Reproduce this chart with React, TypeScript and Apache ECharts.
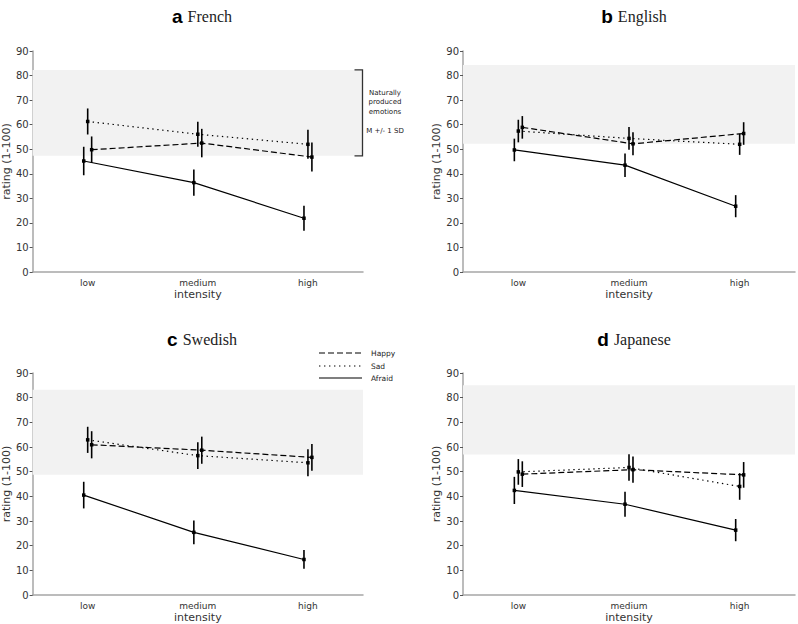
import React, { useEffect, useRef } from 'react';
import * as echarts from 'echarts';

const categories = ['low', 'medium', 'high'];
const emotionNames = ['Happy', 'Sad', 'Afraid'];
const panelLetters = ['a', 'b', 'c', 'd'];
const panelLanguages = ['French', 'English', 'Swedish', 'Japanese'];

// French
const frenchHappy = [49.8, 52.5, 46.8];
const frenchHappyErr = [5.4, 5.8, 5.9];
const frenchSad = [61.3, 56.1, 52.0];
const frenchSadErr = [5.3, 5.1, 5.9];
const frenchAfraid = [45.2, 36.4, 21.9];
const frenchAfraidErr = [5.8, 5.3, 5.1];
const frenchBand = [47.3, 82.3];

// English
const englishHappy = [58.9, 52.2, 56.4];
const englishHappyErr = [4.6, 4.7, 4.6];
const englishSad = [57.4, 54.4, 52.0];
const englishSadErr = [4.6, 4.6, 4.3];
const englishAfraid = [49.7, 43.5, 26.8];
const englishAfraidErr = [4.6, 4.8, 4.5];
const englishBand = [52.2, 84.3];

// Swedish
const swedishHappy = [60.9, 58.7, 55.8];
const swedishHappyErr = [5.5, 5.5, 5.4];
const swedishSad = [62.9, 56.5, 53.6];
const swedishSadErr = [5.3, 5.4, 5.5];
const swedishAfraid = [40.5, 25.4, 14.4];
const swedishAfraidErr = [5.4, 4.8, 3.8];
const swedishBand = [48.8, 83.2];

// Japanese
const japaneseHappy = [49.0, 50.8, 48.7];
const japaneseHappyErr = [5.2, 5.3, 5.2];
const japaneseSad = [49.9, 51.7, 44.0];
const japaneseSadErr = [5.2, 5.4, 5.4];
const japaneseAfraid = [42.4, 36.8, 26.3];
const japaneseAfraidErr = [5.5, 5.1, 4.5];
const japaneseBand = [57.0, 85.0];

const panelMeans = [
  [frenchHappy, frenchSad, frenchAfraid],
  [englishHappy, englishSad, englishAfraid],
  [swedishHappy, swedishSad, swedishAfraid],
  [japaneseHappy, japaneseSad, japaneseAfraid],
];
const panelErrs = [
  [frenchHappyErr, frenchSadErr, frenchAfraidErr],
  [englishHappyErr, englishSadErr, englishAfraidErr],
  [swedishHappyErr, swedishSadErr, swedishAfraidErr],
  [japaneseHappyErr, japaneseSadErr, japaneseAfraidErr],
];
const panelBands = [frenchBand, englishBand, swedishBand, japaneseBand];

const emotionOffsets = [0.036, 0, -0.036];
const emotionDash: any[] = [[6, 3], [1.4, 3.6], 'solid'];

const grids = [
  { left: 31, top: 51, width: 332, height: 221 },
  { left: 463, top: 51, width: 332, height: 221 },
  { left: 31, top: 373, width: 332, height: 222 },
  { left: 463, top: 373, width: 332, height: 222 },
];
const titleTops = [2, 2, 325, 325];

const axisGrey = '#a6a6a6';
const textGrey = '#333';
const sans = 'DejaVu Sans';

export default function App() {
  const ref = useRef<HTMLDivElement>(null);
  useEffect(() => {
    document.body.style.margin = '0';
    const chart = echarts.init(ref.current!, null, { renderer: 'svg' });

    const xAxis: any[] = [];
    const yAxis: any[] = [];
    const series: any[] = [];
    grids.forEach((g, i) => {
      xAxis.push({
        type: 'value', gridIndex: i, min: -0.5, max: 2.5, show: false,
      });
      xAxis.push({
        type: 'category', gridIndex: i, data: categories, boundaryGap: true,
        position: 'bottom',
        name: 'intensity', nameLocation: 'middle', nameGap: 17,
        nameTextStyle: { fontFamily: sans, fontSize: 11, color: textGrey },
        axisLine: { onZero: false, lineStyle: { color: axisGrey, width: 1.5 } },
        axisTick: { alignWithLabel: true, inside: true, length: 3, lineStyle: { color: '#555' } },
        axisLabel: { fontFamily: sans, fontSize: 9, color: textGrey, margin: 6 },
        splitLine: { show: false },
      });
      yAxis.push({
        type: 'value', gridIndex: i, min: 0, max: 90, interval: 10,
        position: 'left',
        name: 'rating (1-100)', nameLocation: 'middle', nameGap: 20,
        nameTextStyle: { fontFamily: sans, fontSize: 11, color: textGrey },
        axisLine: { show: true, onZero: false, lineStyle: { color: axisGrey, width: 1.5 } },
        axisTick: { show: true, length: 3, lineStyle: { color: '#555' } },
        axisLabel: { fontFamily: sans, fontSize: 10, color: textGrey, margin: 4 },
        splitLine: { show: false },
      });
      emotionNames.forEach((name, e) => {
        const means = panelMeans[i][e];
        const errs = panelErrs[i][e];
        const off = emotionOffsets[e];
        const s: any = {
          type: 'line', name, xAxisIndex: 2 * i, yAxisIndex: i,
          data: means.map((v, k) => [k + off, v]),
          symbol: 'rect', symbolSize: 3.5,
          itemStyle: { color: '#000' },
          lineStyle: { color: '#000', width: 1.2, type: emotionDash[e] },
          z: 3,
        };
        if (e === 0) {
          s.markArea = {
            silent: true,
            itemStyle: { color: '#f2f2f2' },
            data: [[{ yAxis: panelBands[i][0] }, { yAxis: panelBands[i][1] }]],
            z: 1,
          };
        }
        series.push(s);
        series.push({
          type: 'custom', name: name + ' error', xAxisIndex: 2 * i, yAxisIndex: i,
          data: means.map((v, k) => [k + off, v - errs[k], v + errs[k]]),
          encode: { x: 0, y: [1, 2] },
          z: 4,
          renderItem: (params: any, api: any) => {
            const x = api.value(0);
            const p1 = api.coord([x, api.value(1)]);
            const p2 = api.coord([x, api.value(2)]);
            return {
              type: 'line',
              shape: { x1: p1[0], y1: p1[1], x2: p2[0], y2: p2[1] },
              style: { stroke: '#000', lineWidth: 1.6 },
            };
          },
        });
      });
    });

    chart.setOption({
      animation: false,
      title: grids.map((g, i) => ({
        text: `{b|${panelLetters[i]}} {s|${panelLanguages[i]}}`,
        left: g.left + g.width / 2,
        top: titleTops[i],
        textAlign: 'center',
        textStyle: {
          fontWeight: 'normal',
          rich: {
            b: { fontFamily: 'Liberation Sans', fontWeight: 'bold', fontSize: 19, color: '#000' },
            s: { fontFamily: 'Liberation Serif', fontWeight: 'normal', fontSize: 16, color: '#222' },
          },
        },
      })),
      grid: grids,
      xAxis,
      yAxis,
      series,
    });

    // bracket and annotation for panel a, legend in panel c
    const pTop = chart.convertToPixel({ xAxisIndex: 0, yAxisIndex: 0 }, [2.5, frenchBand[1]]) as number[];
    const pBot = chart.convertToPixel({ xAxisIndex: 0, yAxisIndex: 0 }, [2.5, frenchBand[0]]) as number[];
    const bx = pTop[0] - 0.5;
    const legendX0 = 319;
    const legendX1 = 362;
    const legendYs = [353, 366, 378];
    chart.setOption({
      graphic: [
        {
          type: 'polyline',
          z: 100,
          shape: { points: [[bx - 8, pTop[1]], [bx, pTop[1]], [bx, pBot[1]], [bx - 8, pBot[1]]] },
          style: { stroke: '#333', lineWidth: 1.3, fill: null },
        },
        {
          type: 'text', x: 385, y: 102,
          style: {
            text: 'Naturally\nproduced\nemotions', fontFamily: sans, fontSize: 7, lineHeight: 9.5,
            fill: '#222', align: 'center', verticalAlign: 'middle',
          },
        },
        {
          type: 'text', x: 385, y: 131,
          style: { text: 'M +/- 1 SD', fontFamily: sans, fontSize: 7, fill: '#222', align: 'center', verticalAlign: 'middle' },
        },
        ...emotionNames.flatMap((name, e) => [
          {
            type: 'line',
            shape: { x1: legendX0, y1: legendYs[e], x2: legendX1, y2: legendYs[e] },
            style: {
              stroke: '#000', lineWidth: 1.2,
              lineDash: e === 2 ? null : emotionDash[e],
            },
          },
          {
            type: 'text', x: 371, y: legendYs[e],
            style: { text: name, fontFamily: sans, fontSize: 7.5, fill: '#222', verticalAlign: 'middle' },
          },
        ]),
      ],
    });

    return () => chart.dispose();
  }, []);
  return <div ref={ref} style={{ width: 798, height: 624 }} />;
}
